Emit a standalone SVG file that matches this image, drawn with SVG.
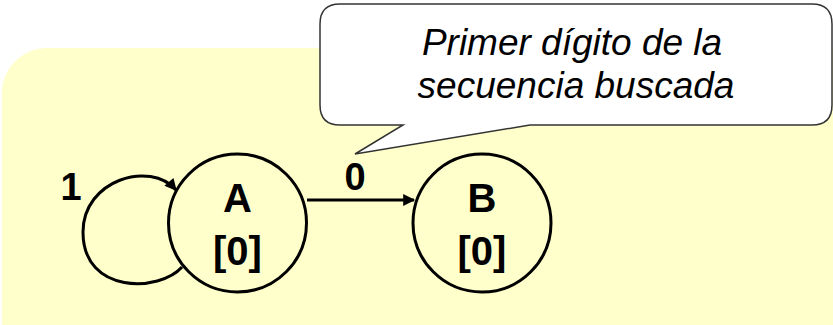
<svg xmlns="http://www.w3.org/2000/svg" width="833" height="325" viewBox="0 0 833 325">
<defs>
<style>
.state{fill:#FFFFCC;stroke:#000;stroke-width:3}
.lbl{font-family:"Liberation Sans",Arial,sans-serif;font-weight:bold;fill:#000;text-anchor:middle}
.edge{fill:none;stroke:#000;stroke-width:3}
.note{font-family:"Liberation Sans",Arial,sans-serif;font-style:italic;font-size:37px;fill:#000;text-anchor:middle}
</style>
<marker id="arr" viewBox="0 0 10 10" refX="9" refY="5" markerWidth="5" markerHeight="4" markerUnits="strokeWidth" orient="auto">
<path d="M0,0 L10,5 L0,10 Z" fill="#000"/>
</marker>
</defs>
<rect x="2" y="48" width="880" height="320" rx="45" ry="45" fill="#FFFFCC"/>
<g id="connectors">
<path class="edge" d="M307,200 L414,200" marker-end="url(#arr)"/>
<path class="edge" d="M182,267 C160,292 83,295 83,232 C83,180 150,160 176,190" marker-end="url(#arr)"/>
<text class="lbl" x="355" y="190" font-size="38">0</text>
<text class="lbl" x="71" y="200" font-size="38">1</text>
</g>
<g id="A">
<circle class="state" cx="237.5" cy="223" r="69"/>
<text class="lbl" x="237.5" y="212" font-size="40">A</text>
<text class="lbl" x="237.5" y="265" font-size="40">[0]</text>
</g>
<g id="B">
<circle class="state" cx="482" cy="223" r="69"/>
<text class="lbl" x="482" y="212" font-size="40">B</text>
<text class="lbl" x="482" y="265" font-size="40">[0]</text>
</g>
<g id="callout">
<path d="M340,4 L812,4 Q832,4 832,24 L832,105 Q832,125 812,125 L530,125 L355,154 L403,125 L340,125 Q320,125 320,105 L320,24 Q320,4 340,4 Z" fill="#fff" stroke="#333" stroke-width="1.5"/>
<text class="note" x="572" y="55">Primer dígito de la</text>
<text class="note" x="576" y="98">secuencia buscada</text>
</g>
</svg>
